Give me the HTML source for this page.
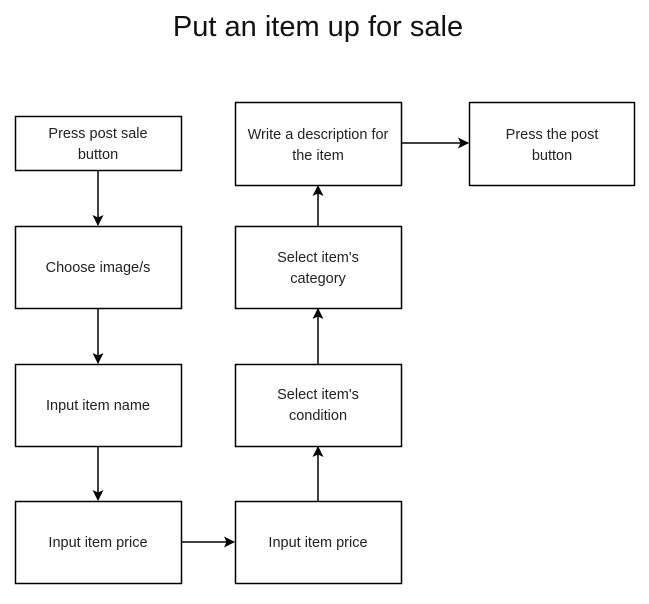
<!DOCTYPE html>
<html><head><style>body{margin:0;background:#fff}</style></head><body>
<svg width="649" height="599" xmlns="http://www.w3.org/2000/svg" font-family="Liberation Sans, sans-serif">
<defs><marker id="a" markerWidth="12" markerHeight="12" refX="10" refY="5.5" orient="auto" markerUnits="userSpaceOnUse"><path d="M0,0 L11,5.5 L0,11 L2.5,5.5 z" fill="#000"/></marker></defs>
<text x="318" y="36" font-size="29" text-anchor="middle" fill="#111">Put an item up for sale</text>
<g fill="#fff" stroke="#000" stroke-width="1.5">
<rect x="15.5" y="116.5" width="166" height="54"/>
<rect x="15.5" y="226.5" width="166" height="82"/>
<rect x="15.5" y="364.5" width="166" height="82"/>
<rect x="15.5" y="501.5" width="166" height="82"/>
<rect x="235.5" y="501.5" width="166" height="82"/>
<rect x="235.5" y="364.5" width="166" height="82"/>
<rect x="235.5" y="226.5" width="166" height="82"/>
<rect x="235.5" y="102.5" width="166" height="83"/>
<rect x="469.5" y="102.5" width="165" height="83"/>
</g>
<g stroke="#000" stroke-width="1.5" marker-end="url(#a)">
<line x1="98" y1="171" x2="98" y2="225"/>
<line x1="98" y1="309" x2="98" y2="363"/>
<line x1="98" y1="447" x2="98" y2="500"/>
<line x1="182" y1="542" x2="234" y2="542"/>
<line x1="318" y1="501" x2="318" y2="447"/>
<line x1="318" y1="364" x2="318" y2="309"/>
<line x1="318" y1="226" x2="318" y2="186"/>
<line x1="402" y1="143" x2="468" y2="143"/>
</g>
<g font-size="14.5" text-anchor="middle" fill="#222">
<text x="98" y="138">Press post sale</text><text x="98" y="159">button</text>
<text x="98" y="272">Choose image/s</text>
<text x="98" y="410">Input item name</text>
<text x="98" y="547">Input item price</text>
<text x="318" y="547">Input item price</text>
<text x="318" y="399">Select item's</text><text x="318" y="420">condition</text>
<text x="318" y="262">Select item's</text><text x="318" y="283">category</text>
<text x="318" y="139">Write a description for</text><text x="318" y="160">the item</text>
<text x="552" y="139">Press the post</text><text x="552" y="160">button</text>
</g>
</svg>
</body></html>
